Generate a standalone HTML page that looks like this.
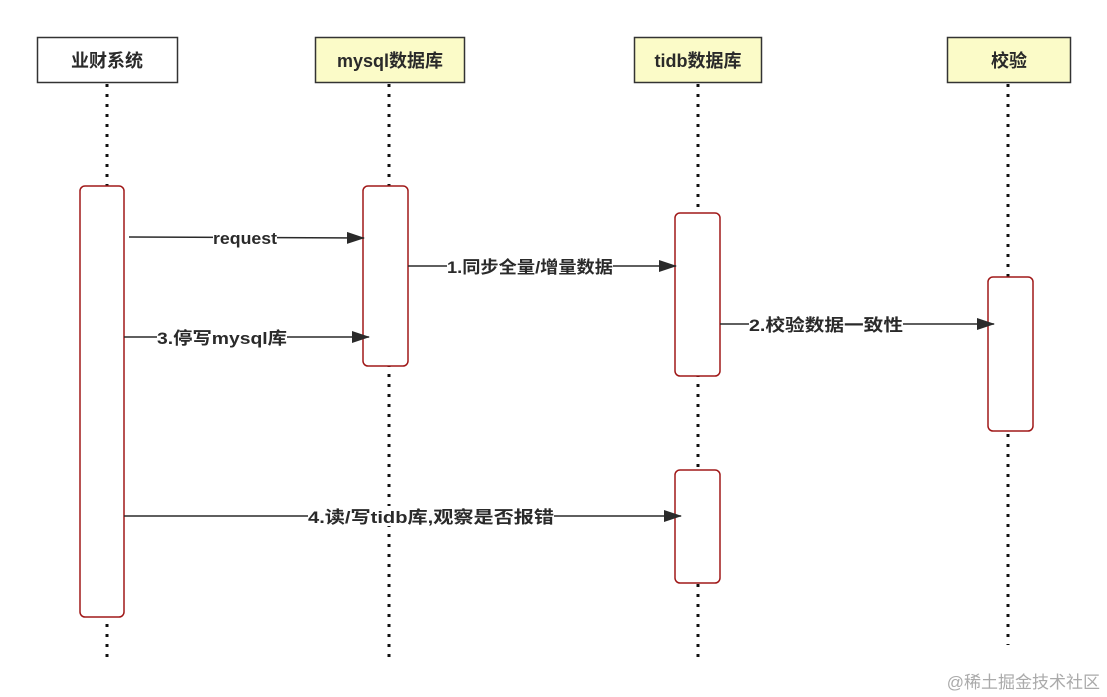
<!DOCTYPE html>
<html><head><meta charset="utf-8"><style>
body{margin:0;background:#fff;}
svg{display:block;}
text{font-family:"Liberation Sans","Noto Sans CJK SC",sans-serif;fill:#2a2a2a;}
</style></head><body>
<svg width="1107" height="697" viewBox="0 0 1107 697" xmlns="http://www.w3.org/2000/svg">
<defs><marker id="a" markerWidth="18" markerHeight="12" refX="17" refY="6" orient="auto" markerUnits="userSpaceOnUse"><path d="M0,0 L18,6 L0,12 Z" fill="#2a2a2a"/></marker></defs>
<g stroke="#111" stroke-width="3" stroke-dasharray="3,7">
<line x1="107" y1="84" x2="107" y2="660"/>
<line x1="389" y1="84" x2="389" y2="660"/>
<line x1="698" y1="84" x2="698" y2="660"/>
<line x1="1008" y1="84" x2="1008" y2="645"/>
</g>
<rect x="37.5" y="37.5" width="140" height="45" fill="#fff" stroke="#333" stroke-width="1.5"/>
<rect x="315.5" y="37.5" width="149" height="45" fill="#fbfbc8" stroke="#333" stroke-width="1.5"/>
<rect x="634.5" y="37.5" width="127" height="45" fill="#fbfbc8" stroke="#333" stroke-width="1.5"/>
<rect x="947.5" y="37.5" width="123" height="45" fill="#fbfbc8" stroke="#333" stroke-width="1.5"/>
<g font-size="18" text-anchor="middle" font-weight="bold">
<text x="107" y="67">业财系统</text>
<text x="390" y="67">mysql数据库</text>
<text x="698" y="67">tidb数据库</text>
<text x="1009" y="67">校验</text>
</g>
<g fill="#fff" stroke="#a01818" stroke-width="1.5">
<rect x="80" y="186" width="44" height="431" rx="5"/>
<rect x="363" y="186" width="45" height="180" rx="5"/>
<rect x="675" y="213" width="45" height="163" rx="5"/>
<rect x="675" y="470" width="45" height="113" rx="5"/>
<rect x="988" y="277" width="45" height="154" rx="5"/>
</g>
<g stroke="#2a2a2a" stroke-width="1.5" marker-end="url(#a)">
<line x1="129" y1="237" x2="364" y2="238"/>
<line x1="408" y1="266" x2="676" y2="266"/>
<line x1="124" y1="337" x2="369" y2="337"/>
<line x1="720" y1="324" x2="994" y2="324"/>
<line x1="124" y1="516" x2="681" y2="516"/>
</g>
<g font-size="17" font-weight="bold">
<rect x="213" y="228" width="64" height="20" fill="#fff"/><text x="213" y="244" textLength="64" lengthAdjust="spacingAndGlyphs">request</text>
<rect x="447" y="256" width="166" height="20" fill="#fff"/><text x="447" y="273" textLength="166" lengthAdjust="spacingAndGlyphs">1.同步全量/增量数据</text>
<rect x="157" y="327" width="130" height="20" fill="#fff"/><text x="157" y="344" textLength="130" lengthAdjust="spacingAndGlyphs">3.停写mysql库</text>
<rect x="749" y="314" width="154" height="20" fill="#fff"/><text x="749" y="331" textLength="154" lengthAdjust="spacingAndGlyphs">2.校验数据一致性</text>
<rect x="308" y="506" width="246" height="20" fill="#fff"/><text x="308" y="523" textLength="246" lengthAdjust="spacingAndGlyphs">4.读/写tidb库,观察是否报错</text>
</g>
<text x="1100" y="688" font-size="17" text-anchor="end" style="fill:#aaa">@稀土掘金技术社区</text>
</svg>
</body></html>
